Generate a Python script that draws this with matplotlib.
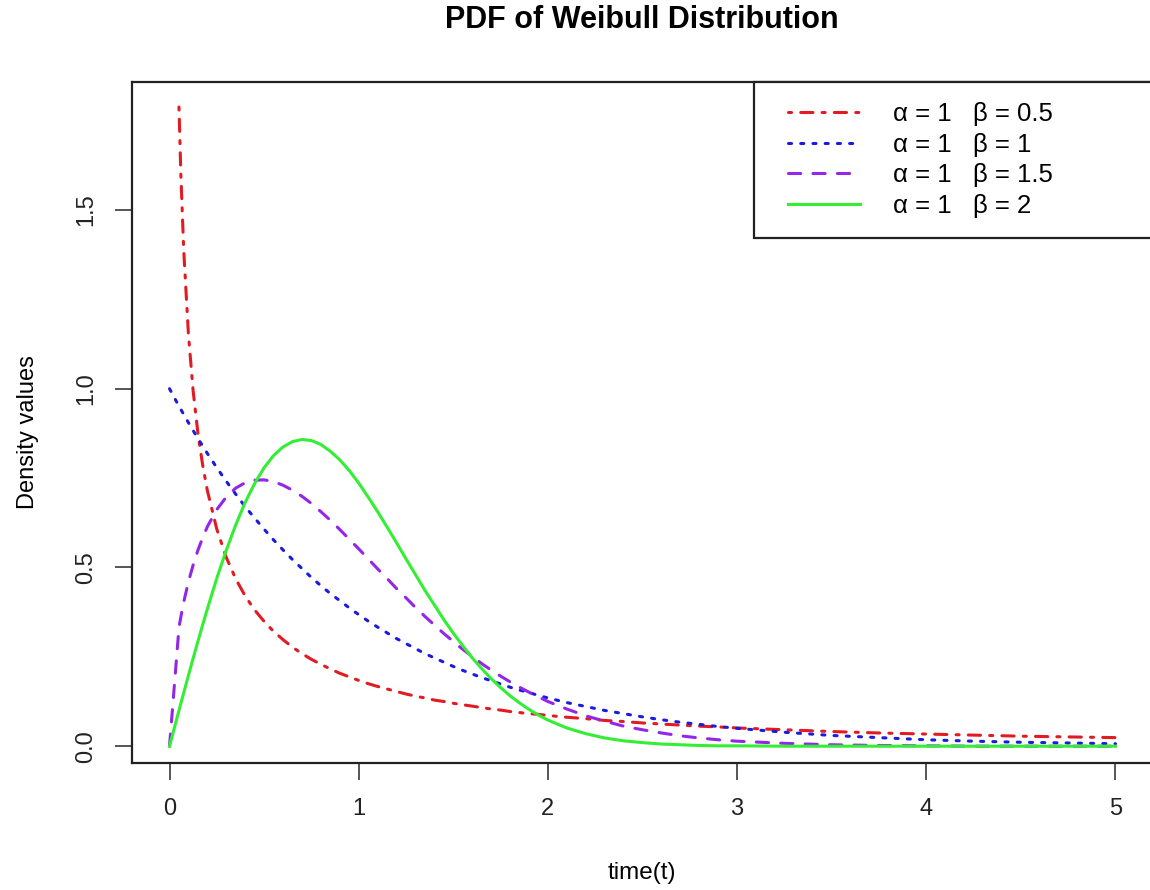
import numpy as np
import matplotlib
matplotlib.use("Agg")
import matplotlib.pyplot as plt
from matplotlib.lines import Line2D
from matplotlib.legend_handler import HandlerLine2D

plt.rcParams['font.family'] = ['Liberation Sans', 'DejaVu Sans']

# time grid
t = [0, 0.05, 0.06, 0.075, 0.1, 0.125, 0.15, 0.175, 0.2,
     0.25, 0.3, 0.35, 0.4, 0.45, 0.5, 0.55, 0.6, 0.65, 0.7, 0.75, 0.8,
     0.85, 0.9, 0.95, 1.0, 1.05, 1.1, 1.15, 1.2, 1.25, 1.3, 1.35, 1.4,
     1.45, 1.5, 1.55, 1.6, 1.65, 1.7, 1.75, 1.8, 1.85, 1.9, 1.95, 2.0,
     2.1, 2.2, 2.3, 2.4, 2.5, 2.6, 2.7, 2.8, 2.9, 3.0,
     3.25, 3.5, 3.75, 4.0, 4.25, 4.5, 4.75, 5.0]

# density values per curve (red has no value at t=0)
dens_b05 = [np.nan, 1.788, 1.598, 1.388, 1.152, 0.993, 0.876, 0.787, 0.715,
            0.607, 0.528, 0.468, 0.420, 0.381, 0.349, 0.321, 0.298, 0.277, 0.259,
            0.243, 0.229, 0.216, 0.204, 0.194, 0.184, 0.175, 0.167, 0.160, 0.153,
            0.146, 0.140, 0.135, 0.129, 0.125, 0.120, 0.116, 0.112, 0.108, 0.104,
            0.101, 0.097, 0.094, 0.091, 0.089, 0.086,
            0.081, 0.077, 0.072, 0.069, 0.065, 0.062, 0.059, 0.056, 0.054, 0.051,
            0.046, 0.041, 0.037, 0.034, 0.031, 0.028, 0.026, 0.024]
dens_b1 = [1.000, 0.951, 0.942, 0.928, 0.905, 0.883, 0.861, 0.840, 0.819,
           0.779, 0.741, 0.705, 0.670, 0.638, 0.607, 0.577, 0.549, 0.522, 0.497,
           0.472, 0.449, 0.427, 0.407, 0.387, 0.368, 0.350, 0.333, 0.317, 0.301,
           0.287, 0.273, 0.259, 0.247, 0.235, 0.223, 0.212, 0.202, 0.192, 0.183,
           0.174, 0.165, 0.157, 0.150, 0.142, 0.135,
           0.122, 0.111, 0.100, 0.091, 0.082, 0.074, 0.067, 0.061, 0.055, 0.050,
           0.039, 0.030, 0.024, 0.018, 0.014, 0.011, 0.009, 0.007]
dens_b15 = [0.000, 0.332, 0.362, 0.403, 0.460, 0.507, 0.548, 0.583, 0.614,
            0.662, 0.697, 0.722, 0.737, 0.744, 0.745, 0.740, 0.730, 0.716, 0.699,
            0.679, 0.656, 0.632, 0.606, 0.579, 0.552, 0.524, 0.496, 0.469, 0.441,
            0.415, 0.388, 0.363, 0.339, 0.315, 0.293, 0.271, 0.251, 0.231, 0.213,
            0.196, 0.180, 0.165, 0.151, 0.138, 0.125,
            0.104, 0.085, 0.070, 0.056, 0.046, 0.037, 0.029, 0.023, 0.018, 0.014,
            0.008, 0.004, 0.002, 0.001, 0.000, 0.000, 0.000, 0.000]
dens_b2 = [0.000, 0.100, 0.120, 0.149, 0.198, 0.246, 0.293, 0.339, 0.384,
           0.470, 0.548, 0.619, 0.682, 0.735, 0.779, 0.813, 0.837, 0.852, 0.858,
           0.855, 0.844, 0.825, 0.801, 0.771, 0.736, 0.697, 0.656, 0.613, 0.569,
           0.524, 0.480, 0.436, 0.395, 0.354, 0.316, 0.281, 0.247, 0.217, 0.189,
           0.164, 0.141, 0.121, 0.103, 0.087, 0.073,
           0.051, 0.035, 0.023, 0.015, 0.010, 0.006, 0.004, 0.002, 0.001, 0.001,
           0.000, 0.000, 0.000, 0.000, 0.000, 0.000, 0.000, 0.000]

labels = ["α = 1   β = 0.5", "α = 1   β = 1", "α = 1   β = 1.5", "α = 1   β = 2"]

fig = plt.figure(figsize=(11.5, 8.9), dpi=100)
ax = fig.add_axes([0.1145, 0.1427, 0.8884, 0.7652])

lw = 2.2
ax.plot(t, dens_b05, color='#e21b22', lw=lw, dashes=(1, 3, 4, 3),
        dash_capstyle='round', label=labels[0])
ax.plot(t, dens_b1, color='#1b1be0', lw=lw, dashes=(1, 3),
        dash_capstyle='round', label=labels[1])
ax.plot(t, dens_b15, color='#9426e8', lw=lw, dashes=(4, 4),
        dash_capstyle='round', label=labels[2])
ax.plot(t, dens_b2, color='#33ee33', lw=lw, label=labels[3])

ax.set_xlim(-0.2, 5.2)
ax.set_ylim(-0.047, 1.858)
ax.set_xticks([0, 1, 2, 3, 4, 5])
ax.set_xticklabels(["0", "1", "2", "3", "4", "5"])
ax.set_yticks([0, 0.5, 1.0, 1.5])
ax.set_yticklabels(["0.0", "0.5", "1.0", "1.5"], rotation=90, va='center')
ax.tick_params(length=12, width=1.4, color='#555555', labelsize=17,
               labelcolor='#222222', pad=13)

for s in ax.spines.values():
    s.set_linewidth(1.6)
    s.set_color('#222222')

fig.text(0.558, 0.9775, "PDF of Weibull Distribution", ha='center', va='center',
         fontsize=22, fontweight='bold')
fig.text(0.558, 0.019, "time(t)", ha='center', va='center', fontsize=17.5)
fig.text(0.024, 0.515, "Density values", ha='center', va='center',
         fontsize=17, rotation=90)

leg = ax.legend(loc='upper right', bbox_to_anchor=(0.609, 0.0, 0.391, 1.0),
                mode='expand', borderaxespad=0, fontsize=18.5, handlelength=3.34,
                handletextpad=1.28, labelspacing=0.26, borderpad=0.78,
                fancybox=False, frameon=True,
                handler_map={Line2D: HandlerLine2D(xpad=0.54)})
leg.get_frame().set_edgecolor('#222222')
leg.get_frame().set_linewidth(1.6)
leg.get_frame().set_alpha(1)

fig.savefig("out.png", dpi=100)
